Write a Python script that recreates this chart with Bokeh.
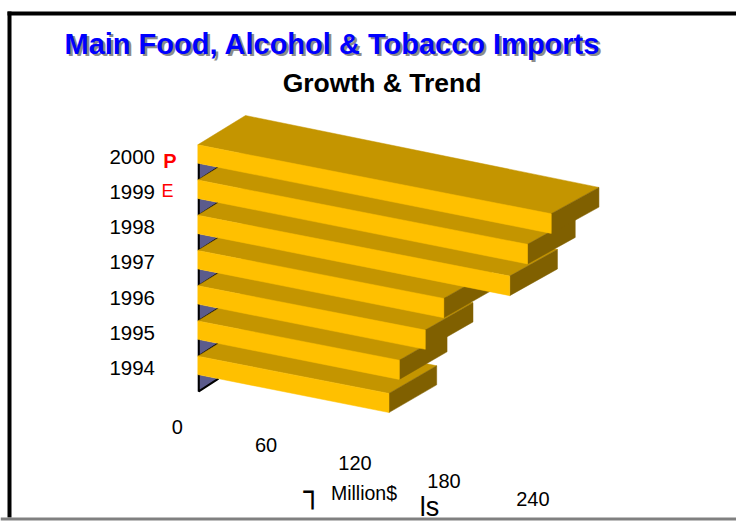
from bokeh.plotting import figure
from bokeh.models import Range1d, ColumnDataSource
from bokeh.embed import file_html
from bokeh.resources import INLINE
from bokeh.core.properties import value

# ---------------- data ----------------
years = ["1994", "1995", "1996", "1997", "1998", "1999", "2000"]
imports = [129, 136, 153.5, 166, 210.5, 222.5, 238.5]   # Million$
tick_values = [0, 60, 120, 180, 240]
tick_labels = ["0", "60", "120", "180", "240"]
year_flags = ["", "", "", "", "", "E", "P"]
title_text = "Main Food, Alcohol & Tobacco Imports"
subtitle_text = "Growth & Trend"
axis_title = "Million$"

# ---------------- oblique 3D projection (picture pixels) ----------------
X0, Y0 = 197.3, 144.3      # front-top-left corner of the front-most row
ROW = 35.23                # row pitch
KX, KY = 1.482, 0.289      # screen displacement per value unit
DX = 47.7                  # depth direction (x)
LX0, LY0, LKY = 176.7, 426.7, 0.300   # value-axis label placement

def DY(v):
    return -29.3 + 3.0 * v / 240.0

def H(v):
    return 18.4 + 1.3 * v / 240.0

def proj(v, row, z, h):
    x = X0 + v * KX + z * DX
    y = Y0 + row * ROW + v * KY + z * DY(v) + h * H(v)
    return x, y

FRONT = "#FFC000"
TOP = "#C49500"
END = "#806000"
WALL = "#5B5B8C"
FONT = "Liberation Sans"

W, HH = 736, 521
p = figure(width=W, height=HH, output_backend="svg", toolbar_location=None,
           x_range=Range1d(0, W), y_range=Range1d(HH, 0), min_border=0)
p.axis.visible = False
p.grid.visible = False
p.outline_line_color = None
p.background_fill_color = "white"

# frame border (top & left) and bottom grey rule
p.quad(left=[7, 7], right=[736, 11], top=[11, 11], bottom=[15, 517],
       fill_color="black", line_color=None)
p.quad(left=[0], right=[736], top=[517], bottom=[520],
       fill_color="#808080", line_color=None)

n = len(years)
rows = [n - 1 - i for i in range(n)]   # 2000 -> row 0 (top), 1994 -> row 6

# side-wall triangles visible at the left of each row
tri_xs, tri_ys, edge_xs, edge_ys = [], [], [], []
DY0 = DY(0)
s = (ROW - H(0)) / (DX / KX * (KY + 1.3 / 240.0) - DY0)
for r in rows:
    xa, ya = proj(0, r, 0, 1)
    xb, yb = X0, Y0 + (r + 1) * ROW
    xc, yc = X0 + s * DX, yb + s * DY0
    tri_xs.append([xa, xc, xb])
    tri_ys.append([ya, yc, yb])
    edge_xs.append([xa + 1, xb + 1, xc])
    edge_ys.append([ya, yb, yc])
p.patches(tri_xs, tri_ys, fill_color=WALL, line_color=None)
p.multi_line(edge_xs, edge_ys, line_color="black", line_width=2)

# bars: draw back-most (1994) first
for v, r in zip(imports, rows):
    top = [proj(0, r, 0, 0), proj(v, r, 0, 0), proj(v, r, 1, 0), proj(0, r, 1, 0)]
    end = [proj(v, r, 0, 0), proj(v, r, 1, 0), proj(v, r, 1, 1), proj(v, r, 0, 1)]
    front = [proj(0, r, 0, 0), proj(v, r, 0, 0), proj(v, r, 0, 1), proj(0, r, 0, 1)]
    for face, col in ((top, TOP), (end, END), (front, FRONT)):
        p.patch([q[0] for q in face], [q[1] for q in face], fill_color=col,
                line_color=col, line_width=0.5)

# category labels (vertically centred on each row)
ysrc = ColumnDataSource(dict(x=[154.5] * n, y=[Y0 + r * ROW + 12 for r in rows], t=years))
p.text(x="x", y="y", text="t", source=ysrc, text_font=value(FONT),
       text_font_size="20.5px", text_align="right", text_baseline="middle",
       text_color="black")

# P / E flags
row_of = {f: r for f, r in zip(year_flags, rows) if f}
p.text(x=[169.5], y=[Y0 + row_of["P"] * ROW + 16], text=["P"], text_font=value(FONT),
       text_font_size="20px", text_font_style="bold", text_align="center",
       text_baseline="middle", text_color="#FF0000")
p.text(x=[167], y=[Y0 + row_of["E"] * ROW + 11], text=["E"], text_font=value(FONT),
       text_font_size="18px", text_align="center", text_baseline="middle",
       text_color="#FF0000")

# value-axis tick labels
tsrc = ColumnDataSource(dict(x=[LX0 + t * KX for t in tick_values],
                             y=[LY0 + t * LKY for t in tick_values],
                             t=tick_labels))
p.text(x="x", y="y", text="t", source=tsrc, text_font=value(FONT),
       text_font_size="20px", text_align="center", text_baseline="middle",
       text_color="black")

# axis title pieces
p.text(x=[363.5], y=[492], text=[axis_title], text_font=value(FONT),
       text_font_size="19.5px", text_align="center", text_baseline="middle")
p.text(x=[429], y=[506.5], text=["ls"], text_font=value(FONT),
       text_font_size="27px", text_align="center", text_baseline="middle")
p.text(x=[303], y=[491], text=["┐"], text_font=value("DejaVu Sans Mono"),
       text_font_size="30px", text_align="left", text_baseline="middle")

# titles
p.text(x=[66.5], y=[45.5], text=[title_text], text_font=value(FONT),
       text_font_size="29px", text_font_style="bold", text_color="#8C8C8C",
       text_baseline="middle")
p.text(x=[64], y=[43], text=[title_text], text_font=value(FONT),
       text_font_size="29px", text_font_style="bold", text_color="#0000FF",
       text_baseline="middle")
p.text(x=[381.5], y=[82.3], text=[subtitle_text], text_font=value(FONT),
       text_font_size="26.5px", text_font_style="bold", text_color="black",
       text_align="center", text_baseline="middle")

open("out.html", "w").write(file_html(p, INLINE))
